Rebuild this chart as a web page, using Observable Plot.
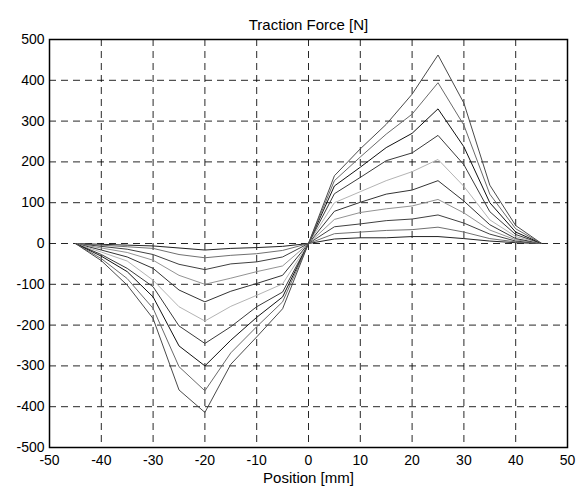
<!DOCTYPE html>
<html>
<head>
<meta charset="utf-8">
<script src="https://cdn.jsdelivr.net/npm/d3@7"></script>
<script src="https://cdn.jsdelivr.net/npm/@observablehq/plot@0.6"></script>
<style>
  html, body { margin: 0; padding: 0; background: #fff; }
  svg { font-family: "Liberation Sans", Arial, sans-serif; }
</style>
</head>
<body>
<div id="chart"></div>
<script>
const positions = [-45, -40, -35, -30, -25, -20, -15, -10, -5, 0, 5, 10, 15, 20, 25, 30, 35, 40, 45];

const s1  = [0, -2, -4, -6, -11, -16, -12, -10, -7, 0, 11, 14, 14, 17, 17, 12, 6, 2, 0];
const s2  = [0, -4, -8, -12, -27, -35, -29, -25, -17, 0, 24, 28, 32, 34, 40, 28, 12, 4, 0];
const s3  = [0, -7, -14, -27, -51, -64, -50, -45, -33, 0, 41, 48, 56, 60, 70, 50, 23, 6, 0];
const s4  = [0, -11, -22, -41, -78, -100, -85, -69, -55, 0, 59, 76, 85, 92, 108, 75, 33, 9, 0];
const s5  = [0, -16, -33, -61, -114, -143, -117, -98, -78, 0, 79, 101, 121, 131, 154, 104, 46, 12, 0];
const s6  = [0, -21, -43, -90, -155, -190, -154, -127, -99, 0, 100, 127, 154, 176, 206, 140, 58, 17, 0];
const s7  = [0, -27, -61, -106, -202, -245, -204, -155, -119, 0, 122, 162, 203, 222, 265, 193, 78, 22, 0];
const s8  = [0, -31, -69, -131, -251, -300, -237, -181, -131, 0, 141, 187, 235, 270, 330, 237, 100, 28, 0];
const s9  = [0, -37, -86, -159, -302, -361, -268, -204, -143, 0, 154, 212, 268, 317, 394, 290, 121, 36, 0];
const s10 = [0, -42, -102, -184, -359, -414, -296, -229, -160, 0, 166, 232, 292, 366, 462, 344, 143, 44, 0];

const seriesNames = ["s1", "s2", "s3", "s4", "s5", "s6", "s7", "s8", "s9", "s10"];
const seriesValues = [s1, s2, s3, s4, s5, s6, s7, s8, s9, s10];
const seriesColors = ["#222222", "#707070", "#404040", "#939393", "#333333", "#b4b4b4", "#3a3a3a", "#111111", "#6a6a6a", "#4a4a4a"];

const xTicks = [-50, -40, -30, -20, -10, 0, 10, 20, 30, 40, 50];
const yTicks = [-500, -400, -300, -200, -100, 0, 100, 200, 300, 400, 500];
const xGrid = [-40, -30, -20, -10, 0, 10, 20, 30, 40];
const yGrid = [-400, -300, -200, -100, 0, 100, 200, 300, 400];

const titleText = "Traction Force [N]";
const xLabelText = "Position [mm]";

const data = [];
seriesNames.forEach((name, i) => {
  positions.forEach((p, j) => data.push({series: name, x: p, y: seriesValues[i][j]}));
});

const chart = Plot.plot({
  width: 584,
  height: 491,
  marginLeft: 49,
  marginRight: 17,
  marginTop: 39,
  marginBottom: 44,
  style: {fontFamily: '"Liberation Sans", Arial, sans-serif', background: "#fff"},
  x: {domain: [-50, 50], ticks: xTicks, tickSize: 0, tickPadding: 8, label: null, tickFormat: d => String(d)},
  y: {domain: [-500, 500], ticks: yTicks, tickSize: 0, tickPadding: 5, label: null, tickFormat: d => String(d)},
  color: {domain: seriesNames, range: seriesColors},
  marks: [
    Plot.ruleX(xGrid, {stroke: "#000", strokeWidth: 1, strokeDasharray: "7,5", strokeOpacity: 0.85}),
    Plot.ruleY(yGrid, {stroke: "#000", strokeWidth: 1, strokeDasharray: "7,5", strokeOpacity: 0.85}),
    Plot.line(data, {x: "x", y: "y", z: "series", stroke: "series", strokeWidth: 1}),
    Plot.frame({stroke: "#000", strokeWidth: 1.5}),
    Plot.axisX({ticks: xTicks, tickSize: 0, tickPadding: 8, fontSize: 14, tickFormat: d => String(d), label: null}),
    Plot.axisY({ticks: yTicks, tickSize: 0, tickPadding: 5, fontSize: 14, tickFormat: d => String(d), label: null}),
    Plot.text([titleText], {frameAnchor: "top", dy: -20, fontSize: 15, fill: "#000"}),
    Plot.text([xLabelText], {frameAnchor: "bottom", dy: 35, fontSize: 15, fill: "#000"})
  ]
});
document.getElementById("chart").appendChild(chart);
</script>
</body>
</html>
